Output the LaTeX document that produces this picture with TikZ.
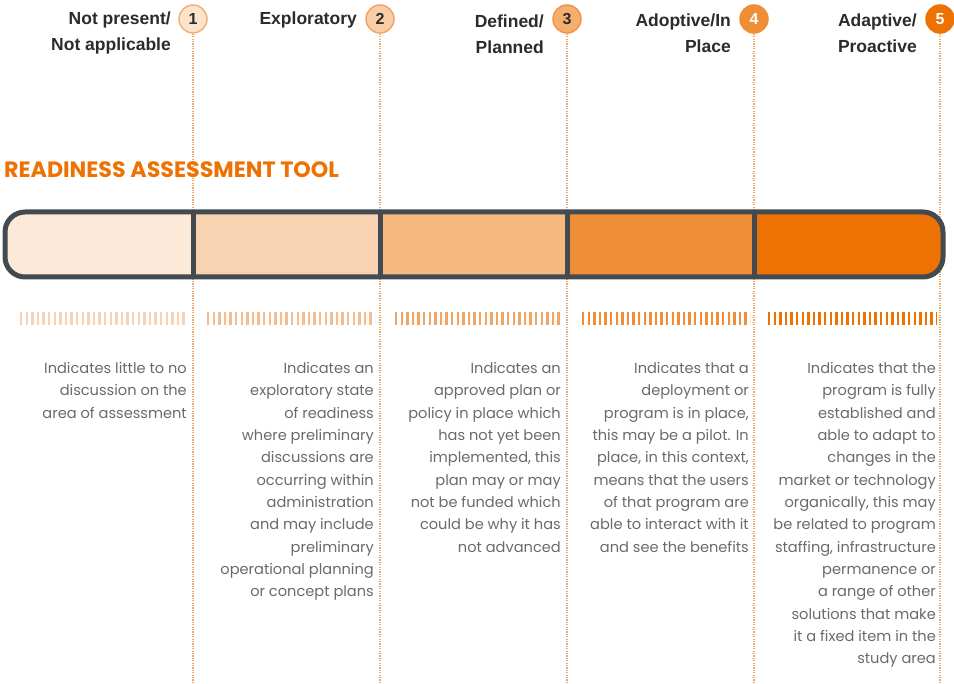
\documentclass[tikz,border=0pt]{standalone}
\usepackage{fontspec}
\setmainfont{Liberation Sans}
\newfontfamily\popfont{Poppins}
\definecolor{dark}{HTML}{2B2B2B}
\definecolor{bodygray}{HTML}{6A6A6A}
\definecolor{barline}{HTML}{434A50}
\definecolor{dotc}{HTML}{F0A868}
\definecolor{sA}{HTML}{FCE9D8}
\definecolor{sB}{HTML}{F8D3B2}
\definecolor{sC}{HTML}{F5B87E}
\definecolor{sD}{HTML}{EF8E37}
\definecolor{sE}{HTML}{EE7203}
\definecolor{hA}{HTML}{F8D2B4}
\definecolor{hB}{HTML}{F4BC90}
\definecolor{hC}{HTML}{F2A562}
\definecolor{hD}{HTML}{EF8E37}
\definecolor{hE}{HTML}{EE7203}
\definecolor{cA}{HTML}{FCE3CC}
\definecolor{cAb}{HTML}{F3B07C}
\definecolor{cB}{HTML}{F9CDA6}
\definecolor{cBb}{HTML}{F2A468}
\definecolor{cC}{HTML}{F5AE6E}
\definecolor{cCb}{HTML}{F09448}
\begin{document}
\begin{tikzpicture}[x=1pt,y=-1pt,
  hdr/.style={font=\fontsize{17.5}{26}\selectfont\bfseries, text=dark, align=right, anchor=east, inner sep=0pt},
  num/.style={circle, minimum size=28pt, inner sep=0pt, line width=1.5pt, font=\fontsize{16}{16}\selectfont\bfseries},
  body/.style={font=\popfont\fontsize{14.6}{22.35}\selectfont, text=bodygray, align=right, anchor=north east, inner sep=0pt},
  dotline/.style={draw=dotc, line width=1.4pt, dash pattern=on 1.2pt off 1.2pt},
  hatch/.style={line width=13pt, dash pattern=on 2.3pt off 3.3pt},
]
\useasboundingbox (0,0) rectangle (954,684);

% circles
\node[num, fill=cA, draw=cAb, text=dark] (c1) at (193,19) {1};
\node[num, fill=cB, draw=cBb, text=dark] (c2) at (380,19) {2};
\node[num, fill=cC, draw=cCb, text=dark] (c3) at (567,19) {3};
\node[num, fill=sD, draw=sD, text=white] (c4) at (754,19) {4};
\node[num, fill=sE, draw=sE, text=white] (c5) at (940,19) {5};

% dotted lines
\foreach \i/\x in {1/193,2/380,3/567,4/754,5/940}{
  \coordinate (e\i) at (\x,684);
  \draw[dotline] (c\i.south) -- (e\i);
}

% header labels
\node[hdr] (h1) at (171,33) {Not present/\\Not applicable};
\node[hdr] (h2) at (357,20) {Exploratory};
\node[hdr] (h3) at (544,34) {Defined/\\Planned};
\node[hdr] (h4) at (731,33) {Adoptive/In\\Place};
\node[hdr] (h5) at (917,33) {Adaptive/\\Proactive};

% title
\node[font=\popfont\fontsize{22.2}{26}\selectfont\bfseries, text=sE, anchor=west, inner sep=0pt] (title) at (4,170) {READINESS ASSESSMENT TOOL};

% bar
\begin{scope}
  \clip[rounded corners=20pt] (5,212) rectangle (943,277);
  \fill[sA] (0,205) rectangle (193,285);
  \fill[sB] (193,205) rectangle (380,285);
  \fill[sC] (380,205) rectangle (567,285);
  \fill[sD] (567,205) rectangle (754,285);
  \fill[sE] (754,205) rectangle (950,285);
\end{scope}
\foreach \x in {193,380,567,754}{
  \draw[barline, line width=5pt] (\x,212) -- (\x,277);
}
\node[draw=barline, line width=5pt, rounded corners=20pt, minimum width=938pt, minimum height=65pt, inner sep=0pt] (bar) at (474,244.5) {};

% hatch bars
\draw[hatch, hA] (20,318.5) -- (188,318.5);
\draw[hatch, hB] (207,318.5) -- (375,318.5);
\draw[hatch, hC] (395,318.5) -- (562,318.5);
\draw[hatch, hD] (582,318.5) -- (750,318.5);
\draw[hatch, hE] (768,318.5) -- (937,318.5);

% body texts
\node[body] (t1) at (187,362) {Indicates little to no\\discussion on the\\area of assessment};
\node[body] (t2) at (374,362) {Indicates an\\exploratory state\\of readiness\\where preliminary\\discussions are\\occurring within\\administration\\and may include\\preliminary\\operational planning\\or concept plans};
\node[body] (t3) at (561,362) {Indicates an\\approved plan or\\policy in place which\\has not yet been\\implemented, this\\plan may or may\\not be funded which\\could be why it has\\not advanced};
\node[body] (t4) at (749,362) {Indicates that a\\deployment or\\program is in place,\\this may be a pilot. In\\place, in this context,\\means that the users\\of that program are\\able to interact with it\\and see the benefits};
\node[body] (t5) at (936,362) {Indicates that the\\program is fully\\established and\\able to adapt to\\changes in the\\market or technology\\organically, this may\\be related to program\\staffing, infrastructure\\permanence or\\a range of other\\solutions that make\\it a fixed item in the\\study area};
\end{tikzpicture}
\end{document}
